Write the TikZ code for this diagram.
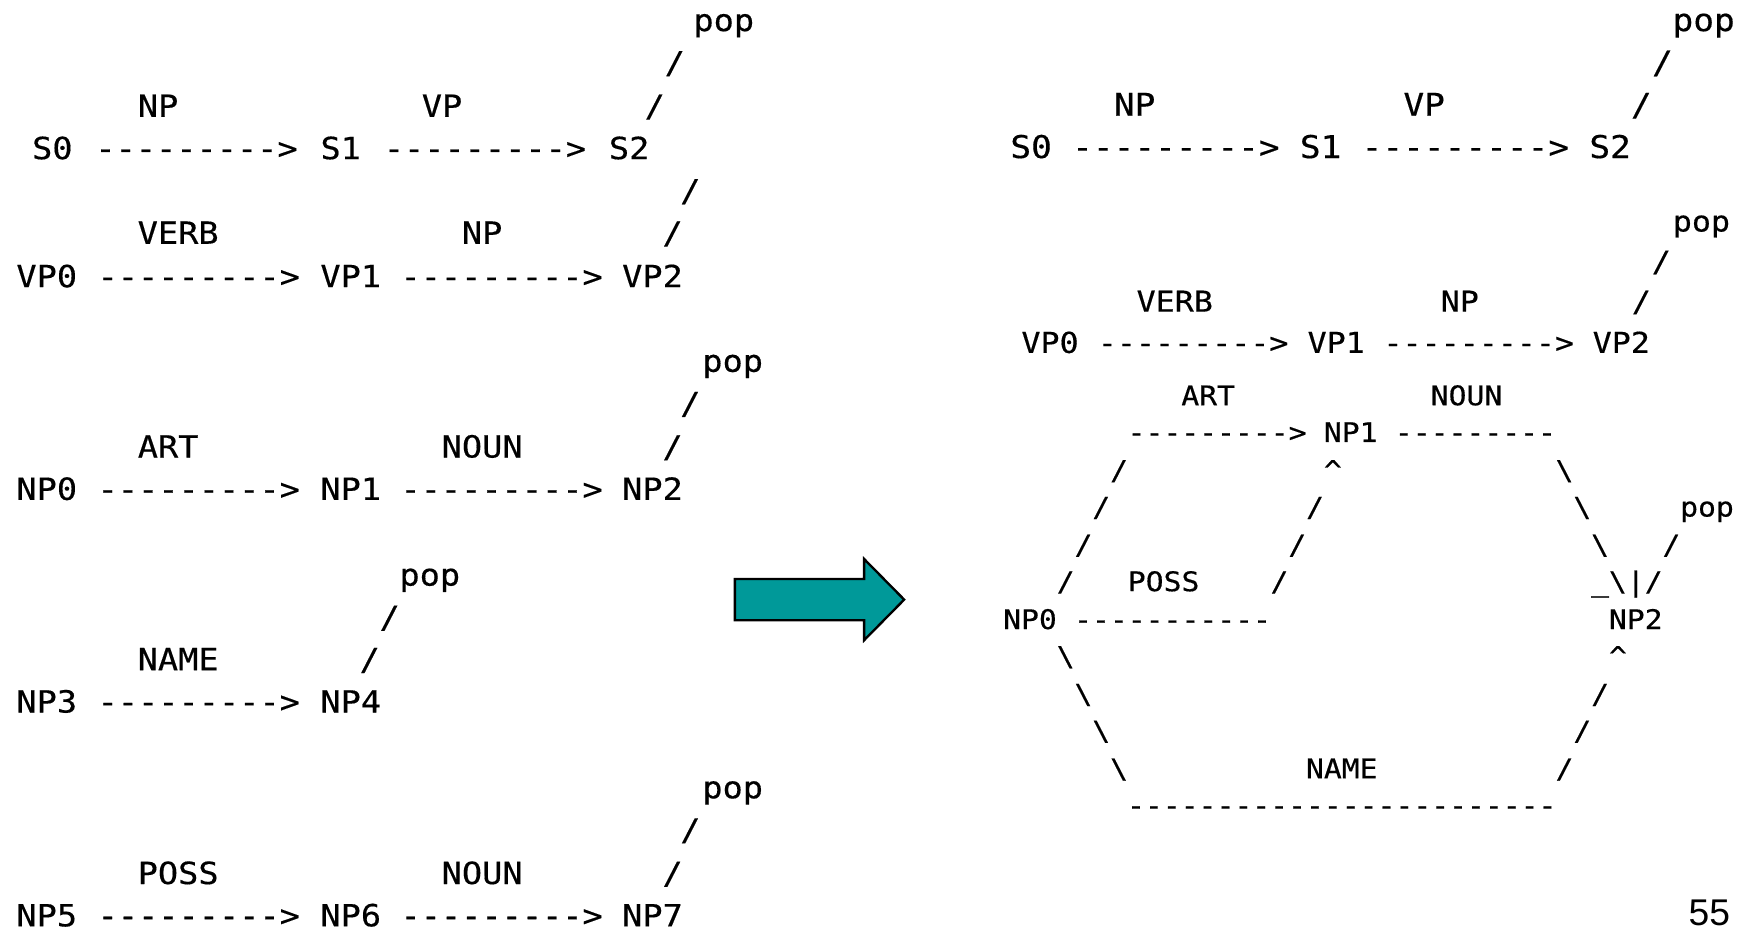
\documentclass[tikz,border=0pt]{standalone}
\usepackage{fontspec}
\usepackage{tikz}
\newfontfamily\asciifont[FakeStretch=1.1,FakeBold=0.4,Numbers=SlashedZero,Ligatures=TeXOff]{DejaVu Sans Mono}
\newfontfamily\pagefont{Liberation Sans}
\definecolor{arrowteal}{RGB}{0,153,153}
\tikzset{
  ascii/.style={inner sep=0pt, text height=6pt, text depth=1.5pt},
  lefttxt/.style={ascii, font=\asciifont\fontsize{7.8pt}{9pt}\selectfont},
  stxt/.style={ascii, font=\asciifont\fontsize{8pt}{9pt}\selectfont},
  vptxt/.style={ascii, font=\asciifont\fontsize{7.35pt}{9pt}\selectfont},
  nptxt/.style={ascii, font=\asciifont\fontsize{6.9pt}{8pt}\selectfont},
  bigarrow/.style={fill=arrowteal, draw=black, line width=0.6pt, line join=miter}
}

\begin{document}
\begin{tikzpicture}[x=0.01cm, y=-0.01cm]
  \useasboundingbox (0,0) rectangle (1568,834);

\begin{scope}[every node/.style=lefttxt]
  \draw (650,20) node (popS) {pop};
  \draw (606,58) node (sS1) {/};
  \draw (142,97) node (NPs) {NP};
  \draw (397,97) node (VPs) {VP};
  \draw (588,97) node (sS2) {/};
  \draw (47,135) node (S0) {S0};
  \draw (306,135) node (S1) {S1};
  \draw (565,135) node (S2) {S2};
     \path (S0) -- node (S0S1) {--------->} (S1);
     \path (S1) -- node (S1S2) {--------->} (S2);

  \draw (620,173) node (sVP1) {/};
  \draw (160,211) node (VERBv) {VERB};
  \draw (433,211) node (NPv) {NP};
  \draw (604,211) node (sVP2) {/};
  \draw (42,250) node (VP0) {VP0};
  \draw (315,250) node (VP1) {VP1};
  \draw (586,250) node (VP2) {VP2};
     \path (VP0) -- node (VP0VP1) {--------->} (VP1);
     \path (VP1) -- node (VP1VP2) {--------->} (VP2);

  \draw (658,326) node (popNP) {pop};
  \draw (620,364) node (sNP1) {/};
  \draw (151,403) node (ARTn) {ART};
  \draw (433,403) node (NOUNn) {NOUN};
  \draw (604,403) node (sNP2) {/};
  \draw (42,441) node (NP0) {NP0};
  \draw (315,441) node (NP1) {NP1};
  \draw (586,441) node (NP2) {NP2};
     \path (NP0) -- node (NP0NP1) {--------->} (NP1);
     \path (NP1) -- node (NP1NP2) {--------->} (NP2);

  \draw (386,518) node (popNPb) {pop};
  \draw (350,556) node (sNP3) {/};
  \draw (160,594) node (NAMEn) {NAME};
  \draw (332,594) node (sNP4) {/};
  \draw (42,632) node (NP3) {NP3};
  \draw (315,632) node (NP4) {NP4};
     \path (NP3) -- node (NP3NP4) {--------->} (NP4);

  \draw (658,709) node (popNPc) {pop};
  \draw (620,747) node (sNP5) {/};
  \draw (160,786) node (POSSn) {POSS};
  \draw (433,786) node (NOUNp) {NOUN};
  \draw (604,786) node (sNP6) {/};
  \draw (42,824) node (NP5) {NP5};
  \draw (315,824) node (NP6) {NP6};
  \draw (586,824) node (NP7) {NP7};
     \path (NP5) -- node (NP5NP6) {--------->} (NP6);
     \path (NP6) -- node (NP6NP7) {--------->} (NP7);
\end{scope}

  \draw[bigarrow] (660,520) -- (776,520) -- (776,502) -- (812,538.5)
     -- (776,575) -- (776,557) -- (660,557) -- cycle;

\begin{scope}[every node/.style=stxt]
  \draw (1530,20) node (rpopS) {pop};
  \draw (1493,58) node (rsS1) {/};
  \draw (1019,96) node (rNPs) {NP};
  \draw (1279,96) node (rVPs) {VP};
  \draw (1474,96) node (rsS2) {/};
  \draw (926,134) node (rS0) {S0};
  \draw (1186,134) node (rS1) {S1};
  \draw (1446,134) node (rS2) {S2};
     \path (rS0) -- node (rS0S1) {--------->} (rS1);
     \path (rS1) -- node (rS1S2) {--------->} (rS2);
\end{scope}

\begin{scope}[every node/.style=vptxt]
  \draw (1528,200) node (rpopVP) {pop};
  \draw (1492,236) node (rsVP1) {/};
  \draw (1055,272) node (rVERBv) {VERB};
  \draw (1311,272) node (rNPv) {NP};
  \draw (1474,272) node (rsVP2) {/};
  \draw (943,309) node (rVP0) {VP0};
  \draw (1200,309) node (rVP1) {VP1};
  \draw (1456,309) node (rVP2) {VP2};
     \path (rVP0) -- node (rVP0VP1) {--------->} (rVP1);
     \path (rVP1) -- node (rVP1VP2) {--------->} (rVP2);
\end{scope}

\begin{scope}[every node/.style=nptxt]
  \draw (1085,356) node (rART) {ART};
  \draw (1317,356) node (rNOUN) {NOUN};
  \draw (1093,389) node (rdART) {--------->};
  \draw (1213,389) node (rNP1) {NP1};
  \draw (1325,389) node (rdNOUN) {---------};

  \draw (1005,423) node (ra1) {/};
  \draw (1197,423) node (rup1) {\textasciicircum};
  \draw (1405,423) node (rb1) {\textbackslash};
  \draw (989,456) node (ra2) {/};
  \draw (1181,456) node (rp1) {/};
  \draw (1421,456) node (rb2) {\textbackslash};
  \draw (1533,456) node (rpopNP) {pop};
  \draw (973,490) node (ra3) {/};
  \draw (1165,490) node (rp2) {/};
  \draw (1437,490) node (rb3) {\textbackslash};
  \draw (1501,490) node (rq1) {/};
  \draw (957,523) node (ra4) {/};
  \draw (1045,523) node (rPOSS) {POSS};
  \draw (1149,523) node (rp3) {/};
  \draw (1461,523) node (rhead) {\_\textbackslash|/};

  \draw (925,557) node (rNP0) {NP0};
  \draw (1053,557) node (rdPOSS) {-----------};
  \draw (1469,557) node (rNP2) {NP2};

  \draw (957,590) node (rc1) {\textbackslash};
  \draw (1453,590) node (rup2) {\textasciicircum};
  \draw (973,624) node (rc2) {\textbackslash};
  \draw (1437,624) node (rn1) {/};
  \draw (989,657) node (rc3) {\textbackslash};
  \draw (1421,657) node (rn2) {/};
  \draw (1005,691) node (rc4) {\textbackslash};
  \draw (1205,691) node (rNAME) {NAME};
  \draw (1405,691) node (rn3) {/};
  \draw (1205,724) node (rdNAME) {------------------------};
\end{scope}

  \draw (1535,820) node[font=\pagefont\fontsize{9.5pt}{11pt}\selectfont, inner sep=0pt] (pagenum) {55};
\end{tikzpicture}
\end{document}
